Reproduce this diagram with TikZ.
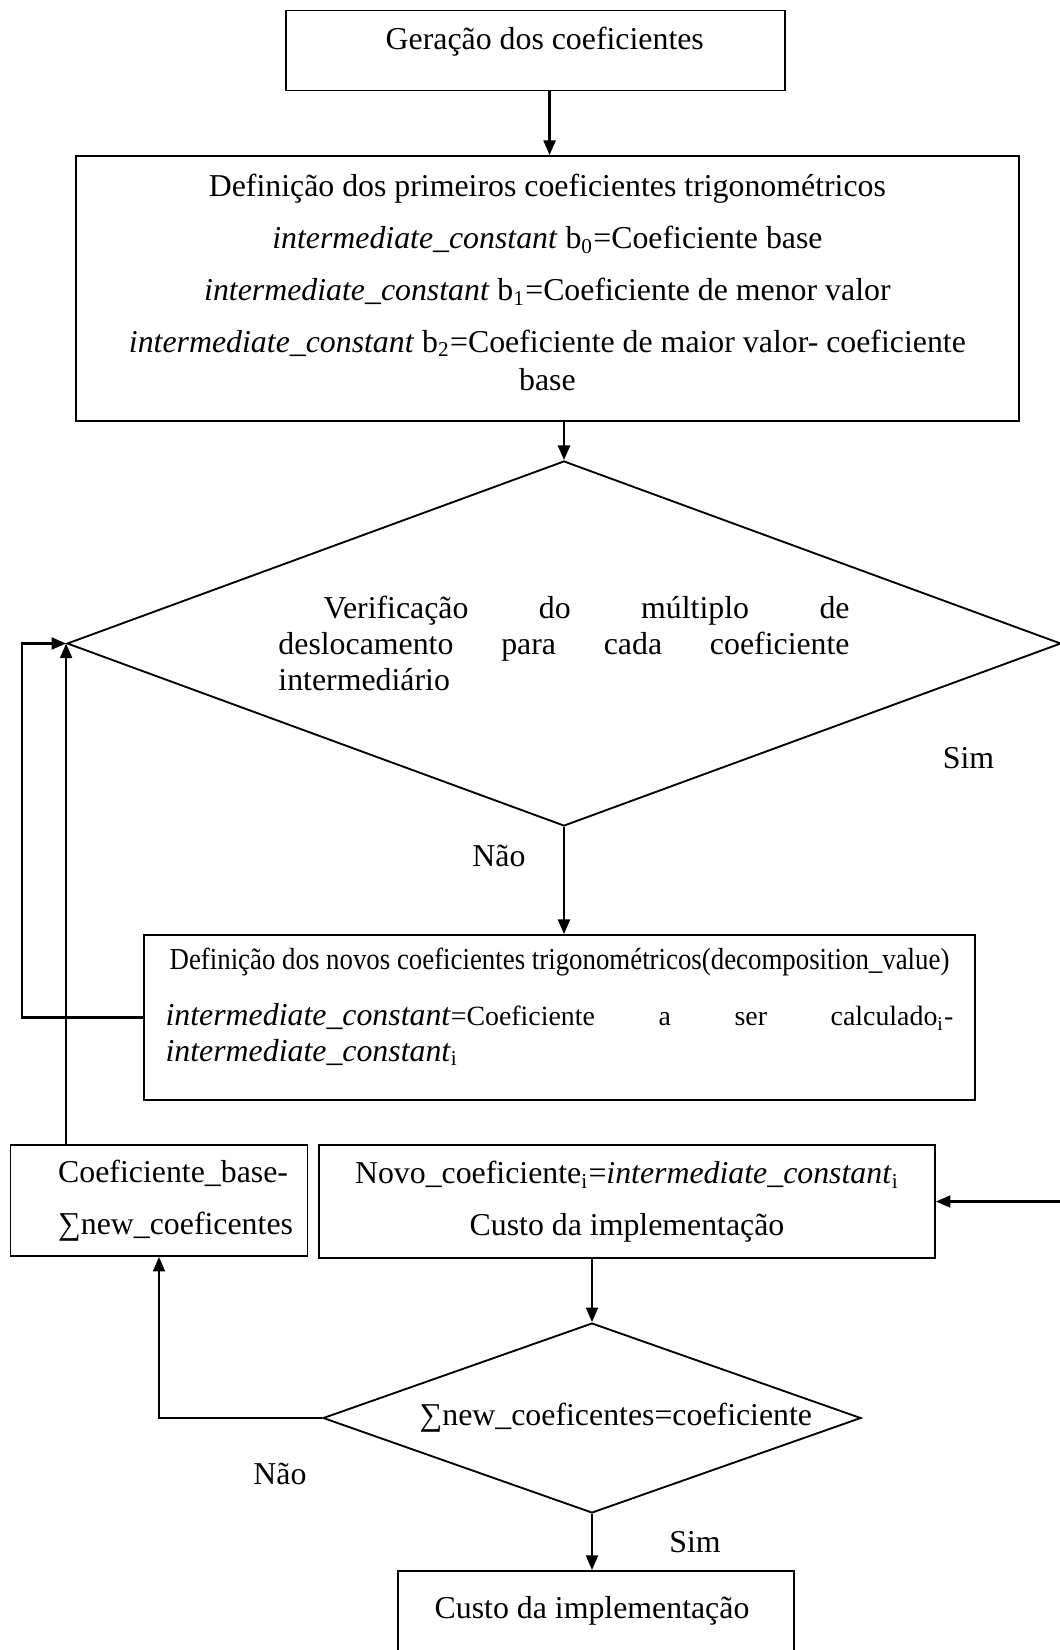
\documentclass[tikz,border=0pt]{standalone}
\usepackage{fontspec}
\setmainfont{Liberation Serif}
\newfontfamily\narrowfont[FakeStretch=0.88]{Liberation Serif}
\usepackage{tikz}
\usetikzlibrary{arrows.meta,shapes.geometric}

\begin{document}
\begin{tikzpicture}[
  x=0.377pt, y=-0.377pt,
  >={Triangle[length=5.5pt,width=4.5pt]},
  font=\fontsize{12}{14.5}\selectfont,
  box/.style={draw, rectangle, line width=0.7pt, inner sep=2pt, align=center},
  dec/.style={draw, diamond, line width=0.7pt, inner sep=0pt},
  flow/.style={->, line width=0.9pt},
  lbl/.style={inner sep=0pt}
]
\useasboundingbox (0,0) rectangle (1059,1650);

%% ---- nodes ----
\node[box, minimum width=188.1pt, minimum height=30.2pt, text depth=9.5pt] (gen) at (535.5,50.5) {
  \hspace*{10pt}Geração dos coeficientes
};
\node[box, minimum width=355.5pt, minimum height=99.9pt, text depth=4.5pt] (first) at (547.4,288.5) {
  Definição dos primeiros coeficientes trigonométricos\\[5pt]
  \textit{intermediate\_constant} b\textsubscript{0}=Coeficiente base\\[5pt]
  \textit{intermediate\_constant} b\textsubscript{1}=Coeficiente de menor valor\\[5pt]
  \textit{intermediate\_constant} b\textsubscript{2}=Coeficiente de maior valor- coeficiente\\
  base
};
\node[dec, aspect=2.72, minimum width=374.7pt, minimum height=137.6pt,
      text width=215.3pt, align=justify, font=\fontsize{12}{13.6}\selectfont] (check) at (564,643.5) {
  \hspace*{17pt}Verificação do múltiplo de\linebreak
  deslocamento para cada coeficiente\linebreak
  intermediário
};
\node[box, minimum width=313.3pt, minimum height=62.2pt, text width=297pt,
      align=justify, font=\fontsize{12}{13.2}\selectfont] (newc) at (559.5,1017.5) {
  \makebox[\linewidth][c]{\narrowfont\fontsize{11.5}{12}\selectfont Definição dos novos coeficientes trigonométricos(decomposition\_value)}\\[8pt]
  \textit{intermediate\_constant}{\fontsize{10.5}{12}\selectfont =Coeficiente a ser calculado\textsubscript{i}-}\linebreak
  \textit{intermediate\_constant}\textsubscript{i}\\[-3.5pt]
};
\node[box, minimum width=112pt, minimum height=41.8pt, text width=98pt, align=left] (base) at (159,1200.5) {
  \hspace*{11pt}Coeficiente\_base-\\[5pt]
  \hspace*{11pt}∑new\_coeficentes
};
\node[box, minimum width=232.2pt, minimum height=42.6pt] (novo) at (627,1201.5) {
  Novo\_coeficiente\textsubscript{i}=\textit{intermediate\_constant}\textsubscript{i}\\[5pt]
  Custo da implementação
};
\node[dec, aspect=2.83, minimum width=202.8pt, minimum height=71.6pt] (final) at (592,1418) {
  \hspace*{18pt}∑new\_coeficentes=coeficiente
};
\node[box, minimum width=149.3pt, minimum height=30.2pt] (cost) at (596,1611) {
  Custo da implementação
};

%% ---- labels ----
\node[lbl] (sim1) at (968.5,758) {Sim};
\node[lbl] (nao1) at (499,856) {Não};
\node[lbl] (nao2) at (280,1474) {Não};
\node[lbl] (sim2) at (695,1542) {Sim};

\coordinate (simin) at (1065,1201.5);

%% ---- main chain ----
\draw[flow] ([xshift=5.3pt]gen.south) -- ([xshift=5.3pt]gen.south |- first.north);
\draw[flow] (first.south -| check.north) -- (check.north);
\draw[flow] (check.south) -- (check.south |- newc.north);
\draw[flow] (final.north |- novo.south) -- (final.north);
\draw[flow] (final.south) -- (final.south |- cost.north);

%% ---- loops back ----
\draw[flow] (newc.west) -- ++(-121,0) |- (check.west);
\draw[flow] (check.west |- base.north) -- (check.west);
\draw[flow] (final.west) -| (base.south);
\draw[flow] (simin) -- (novo.east);

\end{tikzpicture}
\end{document}
